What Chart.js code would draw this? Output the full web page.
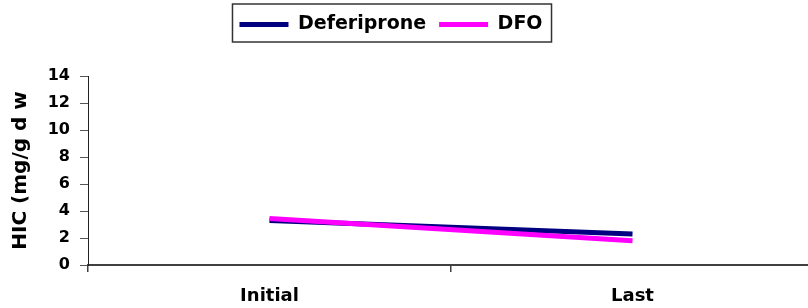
<!DOCTYPE html>
<html>
<head>
<meta charset="utf-8">
<script src="https://cdn.jsdelivr.net/npm/chart.js@4/dist/chart.umd.min.js"></script>
<style>
html,body{margin:0;padding:0;background:#fff;overflow:hidden;width:808px;height:308px;}
#wrap{width:816px;height:308px;}
</style>
</head>
<body>
<div id="wrap"><canvas id="c" width="816" height="308"></canvas></div>
<script>
const categories = ['Initial', 'Last'];
const deferiprone = [3.3, 2.3];
const dfo = [3.45, 1.8];
const yTicks = [0, 2, 4, 6, 8, 10, 12, 14];
const FONT = 'DejaVu Sans';

const legendBorder = {
  id: 'legendBorder',
  afterInit(chart) {
    const lg = chart.legend;
    const origFit = lg.fit;
    lg.fit = function () { origFit.call(this); this.height += 32; };
  },
  afterLayout(chart) {
    const lg = chart.legend;
    lg.left -= 16; lg.right -= 16;
  },
  afterDraw(chart) {
    const lg = chart.legend;
    const hb = lg.legendHitBoxes;
    if (!hb || !hb.length) return;
    const first = hb[0], last = hb[hb.length - 1];
    const ctx = chart.ctx;
    ctx.save();
    ctx.strokeStyle = '#333';
    ctx.lineWidth = 1.5;
    const x1 = first.left - 7, x2 = last.left + last.width + 9;
    ctx.strokeRect(x1, 4, x2 - x1, 38);
    ctx.restore();
  }
};

new Chart(document.getElementById('c'), {
  type: 'line',
  data: {
    labels: categories,
    datasets: [
      { label: 'Deferiprone', data: deferiprone, borderColor: '#000080', backgroundColor: '#000080', borderWidth: 5, pointRadius: 0, order: 1 },
      { label: 'DFO', data: dfo, borderColor: '#ff00ff', backgroundColor: '#ff00ff', borderWidth: 5, pointRadius: 0, order: 0 }
    ]
  },
  options: {
    responsive: false,
    animation: false,
    layout: { padding: { top: 2, right: 2, left: 0, bottom: 0 } },
    plugins: {
      tooltip: { enabled: false },
      legend: {
        position: 'top',
        labels: {
          boxWidth: 49,
          boxHeight: 5,
          padding: 13,
          color: '#000',
          font: { family: FONT, size: 19, weight: 'bold' },
          sort: (a, b) => a.datasetIndex - b.datasetIndex,
          generateLabels(chart) {
            const items = Chart.defaults.plugins.legend.labels.generateLabels(chart);
            items.forEach(i => { i.lineWidth = 0; });
            return items;
          }
        }
      }
    },
    scales: {
      x: {
        type: 'category',
        offset: true,
        grid: { display: true, drawOnChartArea: false, drawTicks: true, tickLength: 7, offset: true, color: '#404040', lineWidth: 1.5 },
        border: { display: true, color: '#404040', width: 2 },
        ticks: { color: '#000', padding: 14, font: { family: FONT, size: 18, weight: 'bold' } },
        afterFit(s) { s.height = 43; }
      },
      y: {
        min: 0, max: 14,
        afterBuildTicks(s) { s.ticks = yTicks.map(v => ({ value: v })); },
        grid: { display: true, drawOnChartArea: false, drawTicks: true, tickLength: 8, color: '#555', lineWidth: 1 },
        border: { display: true, color: '#222', width: 1 },
        ticks: { color: '#000', padding: 10, font: { family: FONT, size: 16, weight: 'bold' } },
        title: { display: true, text: 'HIC (mg/g d w', color: '#000', padding: { top: 9, bottom: 0 }, font: { family: FONT, size: 20, weight: 'bold' } },
        afterFit(s) { s.width = 88; }
      }
    }
  },
  plugins: [legendBorder]
});
</script>
</body>
</html>
